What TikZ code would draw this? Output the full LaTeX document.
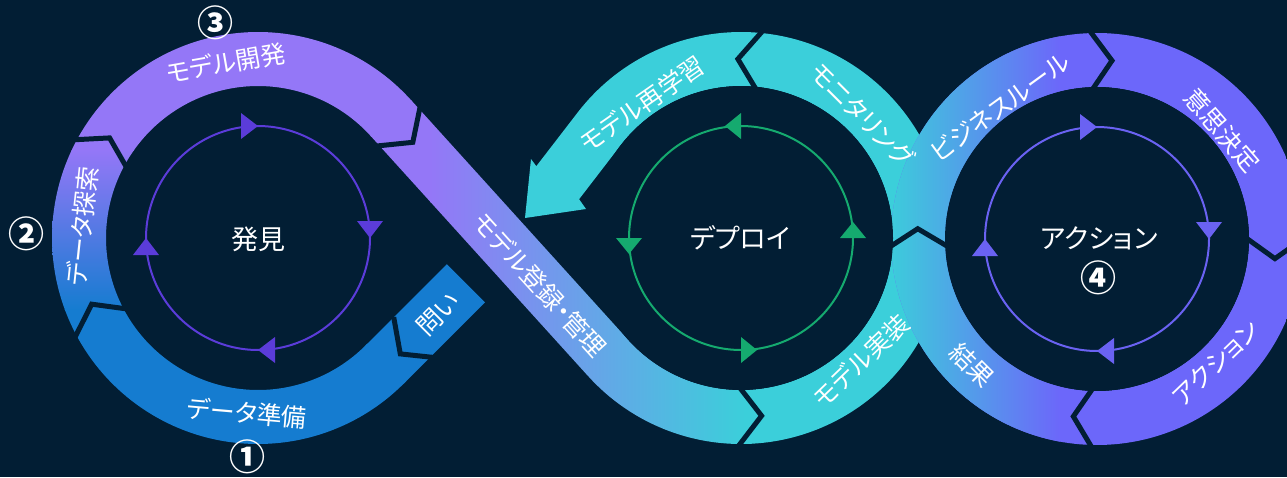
\documentclass[tikz,border=0pt]{standalone}
\usepackage{fontspec}
\newfontfamily\jp[RawFeature=+palt]{Noto Sans CJK JP}
\newfontfamily\jpn{Noto Sans CJK JP}
\usetikzlibrary{calc}
\definecolor{bg}{HTML}{021E34}
\definecolor{blueL}{HTML}{157CD0}
\definecolor{purpL}{HTML}{9477F7}
\definecolor{tealc}{HTML}{3BCFDA}
\definecolor{purpR}{HTML}{6C67FA}
\definecolor{arrL}{HTML}{5B3CD9}
\definecolor{arrM}{HTML}{15AA6F}
\definecolor{arrR}{HTML}{6A62F2}
\begin{document}
\begin{tikzpicture}[x=1pt,y=-1pt,
  sep/.style={draw=bg,line width=5pt,line join=miter,miter limit=10},
  lbl/.style={text=white,inner sep=0pt,font=\jp\fontsize{25}{25}\selectfont},
  clbl/.style={text=white,inner sep=0pt,font=\jp\fontsize{27}{27}\selectfont},
  num/.style={text=white,inner sep=0pt,font=\jpn\bfseries\fontsize{36}{36}\selectfont},
  ring/.style={line width=2pt}]
\useasboundingbox (0,0) rectangle (1287,477);
\fill[bg] (0,0) rectangle (1287,477);
\clip (0,0) rectangle (1287,477);
\coordinate (C1) at (258,238);
\coordinate (C2) at (741,238);
\coordinate (C3) at (1097,239);

% middle ring (teal) with arrow end
\fill[tealc] plot[domain=-142.4:88.5,samples=160] ({741+206*cos(\x)},{238+206*sin(\x)})
  -- plot[domain=88.5:-142.4,samples=160] ({741+152*cos(\x)},{238+152*sin(\x)})
  -- (579.1,199.2) -- (586,209) -- (525,218) -- (531,159) -- (536.3,166.2) -- cycle;

% diagonal with gradient
\begin{scope}
\clip (410.7,99.7) -- (628.3,340.0) -- (588.3,376.3) -- (370.7,136.0) -- cycle
  plot[domain=87:137.83,samples=60] ({741+206*cos(\x)},{238+206*sin(\x)})
  -- plot[domain=137.83:87,samples=60] ({741+152*cos(\x)},{238+152*sin(\x)}) -- cycle;
\fill[purpL] (300,0) rectangle (431,477);
\shade[left color=purpL,right color=tealc] (430,0) rectangle (745,477);
\fill[tealc] (744,0) rectangle (800,477);
\end{scope}

% left ring
\begin{scope}
\clip plot[domain=44:318.3,samples=200] ({258+206*cos(\x)},{238+206*sin(\x)})
  -- plot[domain=318.3:44,samples=200] ({258+152*cos(\x)},{238+152*sin(\x)}) -- cycle;
\fill[purpL] (0,0) rectangle (520,151);
\shade[top color=purpL,bottom color=blueL] (0,150) rectangle (520,310);
\fill[blueL] (0,309) rectangle (520,477);
\end{scope}
% start piece
\fill[blueL] (365.5,345.5) -- (446.8,264.2) -- (485.0,302.4) -- (403.7,383.7) -- cycle;

% right ring
\begin{scope}
\clip plot[domain=0:360,samples=240] ({1097+206*cos(\x)},{239+206*sin(\x)}) -- cycle
  plot[domain=360:0,samples=240] ({1097+152*cos(\x)},{239+152*sin(\x)}) -- cycle;
\fill[purpR] (880,0) rectangle (1300,477);
\shade[left color=tealc,right color=purpR] (885,0) rectangle (1060,477);
\end{scope}

% clean inner disks
\fill[bg] plot[domain=0:360,samples=200] ({741+152*cos(\x)},{238+152*sin(\x)}) -- cycle;
\fill[bg] plot[domain=0:360,samples=200] ({1097+152*cos(\x)},{239+152*sin(\x)}) -- cycle;

% separators
\draw[sep] ($(C1)+(151:147)$) -- ($(C1)+(158.3:179)$) -- ($(C1)+(151:211)$);
\draw[sep] ($(C1)+(207.7:147)$) -- ($(C1)+(214:179)$) -- ($(C1)+(207.7:211)$);
\draw[sep] (420.3,105.9) -- (412.8,142.3) -- (375.8,146.1);
\draw[sep] (393.7,317.1) -- (400.3,353.9) -- (434.1,357.5);
\draw[sep] ($(C2)+(91.3:147)$) -- ($(C2)+(83.4:179)$) -- ($(C2)+(91.3:211)$);
\draw[sep] ($(C2)+(-83.5:147)$) -- ($(C2)+(-91:179)$) -- ($(C2)+(-83.5:211)$);
\draw[sep] ($(C2)+(4:147)$) -- ($(C2)+(-3:177)$) -- ($(C3)+(176.5:147)$);
\draw[sep] ($(C3)+(-92.5:147)$) -- ($(C3)+(-85.2:179)$) -- ($(C3)+(-92.5:211)$);
\draw[sep] ($(C3)+(-1:147)$) -- ($(C3)+(6.3:179)$) -- ($(C3)+(-1:211)$);
\draw[sep] ($(C3)+(91:147)$) -- ($(C3)+(97.6:179)$) -- ($(C3)+(91:211)$);

% inner cycles
\draw[ring,arrL] plot[domain=0:360,samples=200] ({258+112*cos(\x)},{238+112*sin(\x)}) -- cycle;
\fill[arrL] (258,126) -- (241,113) -- (241,139) -- cycle;
\fill[arrL] (370,238) -- (357,221) -- (383,221) -- cycle;
\fill[arrL] (258,350) -- (275,337) -- (275,363) -- cycle;
\fill[arrL] (146,238) -- (133,255) -- (159,255) -- cycle;

\draw[ring,arrM] plot[domain=0:360,samples=200] ({741+112*cos(\x)},{238+112*sin(\x)}) -- cycle;
\fill[arrM] (725,126) -- (741,113) -- (741,139) -- cycle;
\fill[arrM] (629,254) -- (616,238) -- (642,238) -- cycle;
\fill[arrM] (757,350) -- (741,337) -- (741,363) -- cycle;
\fill[arrM] (853,222) -- (840,238) -- (866,238) -- cycle;

\draw[ring,arrR] plot[domain=0:360,samples=200] ({1097+112*cos(\x)},{239+112*sin(\x)}) -- cycle;
\fill[arrR] (1097,127) -- (1080,114) -- (1080,140) -- cycle;
\fill[arrR] (1209,239) -- (1196,222) -- (1222,222) -- cycle;
\fill[arrR] (1097,351) -- (1114,338) -- (1114,364) -- cycle;
\fill[arrR] (985,239) -- (972,256) -- (998,256) -- cycle;

% band labels
\node[lbl,rotate=10] (t1) at (226,63) {モデル開発};
\node[lbl,rotate=84] (t2) at (82,226) {データ探索};
\node[lbl,rotate=-5] (t3) at (247,413) {データ準備};
\node[lbl,rotate=45] (t4) at (438,314) {問い};
\node[lbl,rotate=-47.8] (t5) at (540,285) {モデル登録・管理};
\node[lbl,rotate=35] (t6) at (642,104) {モデル再学習};
\node[lbl,rotate=-45] (t7) at (862,115) {モニタリング};
\node[lbl,rotate=44] (t8) at (861,361) {モデル実装};
\node[lbl,rotate=36] (t9) at (1000,107) {ビジネスルール};
\node[lbl,rotate=-49] (t10) at (1222,130) {意思決定};
\node[lbl,rotate=44] (t11) at (1216,363) {アクション};
\node[lbl,rotate=-45] (t12) at (972,365) {結果};
% centre labels
\node[clbl] (c1) at (258,239) {発見};
\node[clbl] (c2) at (740,238) {デプロイ};
\node[clbl] (c3) at (1099,238) {アクション};
% numbers
\node[num] (n4) at (1098,278) {④};
\node[num] (n1) at (247,457) {①};
\node[num] (n2) at (27,234) {②};
\node[num] (n3) at (215,23) {③};
\end{tikzpicture}
\end{document}
